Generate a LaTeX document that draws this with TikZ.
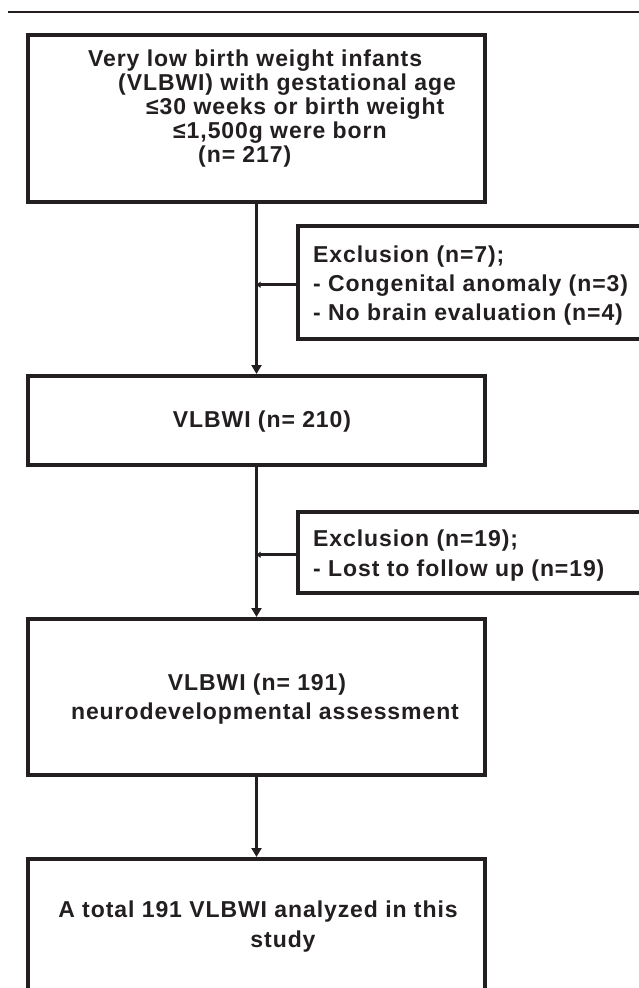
\documentclass[tikz,border=0pt]{standalone}
\usepackage{fontspec}
\setmainfont{Liberation Sans}[LetterSpace=4]
\usetikzlibrary{arrows.meta}
\definecolor{ink}{HTML}{231F20}
\tikzset{
  box/.style={draw=ink, line width=3.6pt, rectangle, inner sep=0pt, anchor=north west},
  txt/.style={inner sep=0pt, text=ink, font=\fontsize{23}{26}\selectfont\bfseries},
  conn/.style={draw=ink, line width=3pt, -{Triangle[width=10pt,length=9pt]}},
  branch/.style={draw=ink, line width=3pt, -{Triangle[width=6pt,length=4pt]}},
}
\begin{document}
\begin{tikzpicture}[x=1pt,y=-1pt]
\useasboundingbox (0,0) rectangle (639,988);
\clip (0,0) rectangle (639,988);
\fill[white] (0,0) rectangle (639,988);
% top rule
\coordinate (r0) at (8,12);
\coordinate (r1) at (639,12);
\draw[ink, line width=2.2pt] (r0) -- (r1);
\coordinate (tx) at (256.5,0);
% boxes
\node[box, minimum width=457pt, minimum height=167pt] (b1) at (26,33) {};
\node[box, minimum width=380pt, minimum height=113pt] (e1) at (296,224) {};
\node[box, minimum width=457pt, minimum height=89pt] (b2) at (26,374) {};
\node[box, minimum width=380pt, minimum height=81pt] (e2) at (296,510) {};
\node[box, minimum width=457pt, minimum height=156pt] (b3) at (26,617) {};
\node[box, minimum width=457pt, minimum height=160pt] (b4) at (26,857) {};
% box 1 text
\node[txt, anchor=base west] (t11) at (88,66) {Very low birth weight infants};
\node[txt, anchor=base west] (t12) at (118,90) {(VLBWI) with gestational age};
\node[txt, anchor=base west] (t13) at (146,114) {≤30 weeks or birth weight};
\node[txt, anchor=base west] (t14) at (173,138) {≤1,500g were born};
\node[txt, anchor=base west] (t15) at (198,162) {(n= 217)};
% exclusion 1
\node[txt, anchor=base west] (t21) at (313,262) {Exclusion (n=7);};
\node[txt, anchor=base west] (t22) at (313,291) {- Congenital anomaly (n=3)};
\node[txt, anchor=base west] (t23) at (313,320) {- No brain evaluation (n=4)};
% box 2
\node[txt, anchor=base] (t31) at (262,427) {VLBWI (n= 210)};
% exclusion 2
\node[txt, anchor=base west] (t41) at (313,546) {Exclusion (n=19);};
\node[txt, anchor=base west] (t42) at (313,576) {- Lost to follow up (n=19)};
% box 3
\node[txt, anchor=base] (t51) at (257,690) {VLBWI (n= 191)};
\node[txt, anchor=base] (t52) at (265,719) {neurodevelopmental assessment};
% box 4
\node[txt, anchor=base] (t61) at (258,917) {A total 191 VLBWI analyzed in this};
\node[txt, anchor=base] (t62) at (283,947) {study};
% connectors
\draw[conn] (b1.south -| tx) -- (b2.north -| tx);
\draw[conn] (b2.south -| tx) -- (b3.north -| tx);
\draw[conn] (b3.south -| tx) -- (b4.north -| tx);
\draw[branch] ([yshift=-2.5pt]e1.west) -- ([yshift=-2.5pt]e1.west -| tx);
\draw[branch] ([yshift=-2.5pt]e2.west) -- ([yshift=-2.5pt]e2.west -| tx);
\end{tikzpicture}
\end{document}
